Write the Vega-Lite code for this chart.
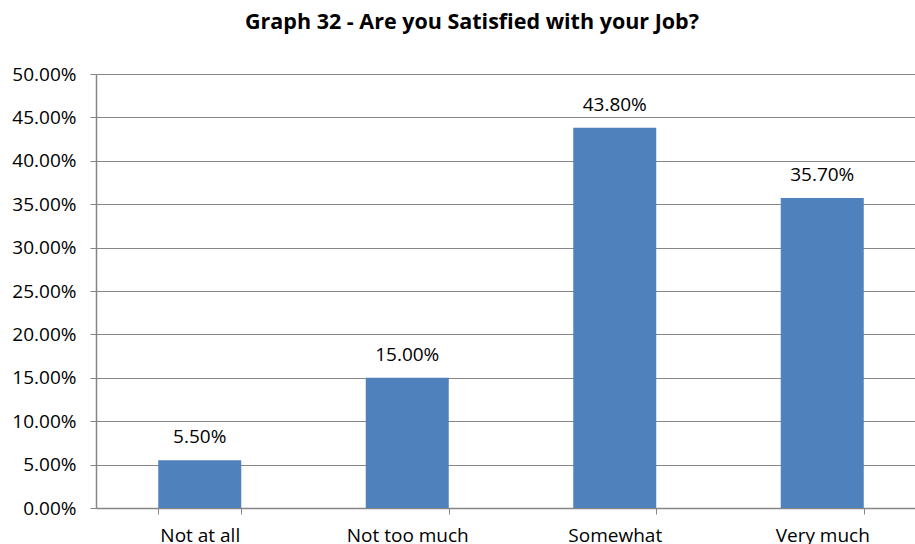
{
  "$schema": "https://vega.github.io/schema/vega-lite/v6.json",
  "width": 830,
  "height": 434,
  "autosize": {"type": "none"},
  "padding": {"left": 96, "top": 74, "right": 0, "bottom": 36},
  "background": "white",
  "title": {
    "text": "Graph 32 - Are you Satisfied with your Job?",
    "font": "Open Sans",
    "fontSize": 21.5,
    "fontWeight": "bold",
    "color": "#000000",
    "anchor": "start",
    "frame": "group",
    "dx": 149,
    "offset": 32
  },
  "data": {
    "values": [
      {"category": "Not at all", "value": 0.055},
      {"category": "Not too much", "value": 0.15},
      {"category": "Somewhat", "value": 0.438},
      {"category": "Very much", "value": 0.357}
    ]
  },
  "encoding": {
    "x": {
      "field": "category",
      "type": "nominal",
      "sort": null,
      "scale": {"paddingInner": 0.6, "paddingOuter": 0.3},
      "axis": {
        "title": null,
        "labelAngle": 0,
        "labelFont": "Open Sans",
        "labelFontSize": 19,
        "labelColor": "#000000",
        "labelPadding": 12,
        "tickBand": "extent",
        "tickSize": 6,
        "tickColor": "#868686",
        "domainColor": "#868686",
        "domainWidth": 1.5,
        "grid": false
      }
    },
    "y": {
      "field": "value",
      "type": "quantitative",
      "scale": {"domain": [0, 0.5], "nice": false},
      "axis": {
        "title": null,
        "format": ".2%",
        "values": [0, 0.05, 0.1, 0.15, 0.2, 0.25, 0.3, 0.35, 0.4, 0.45, 0.5],
        "labelFont": "Open Sans",
        "labelFontSize": 19,
        "labelColor": "#000000",
        "labelPadding": 14,
        "tickSize": 6,
        "tickColor": "#868686",
        "domainColor": "#868686",
        "domainWidth": 1.5,
        "grid": true,
        "gridColor": "#868686",
        "gridWidth": 1
      }
    }
  },
  "layer": [
    {"mark": {"type": "bar", "color": "#4F81BD"}},
    {
      "mark": {
        "type": "text",
        "baseline": "alphabetic",
        "dy": -17,
        "font": "Open Sans",
        "fontSize": 19,
        "color": "#000000"
      },
      "encoding": {
        "text": {"field": "value", "type": "quantitative", "format": ".2%"}
      }
    }
  ],
  "config": {"view": {"stroke": null}}
}
